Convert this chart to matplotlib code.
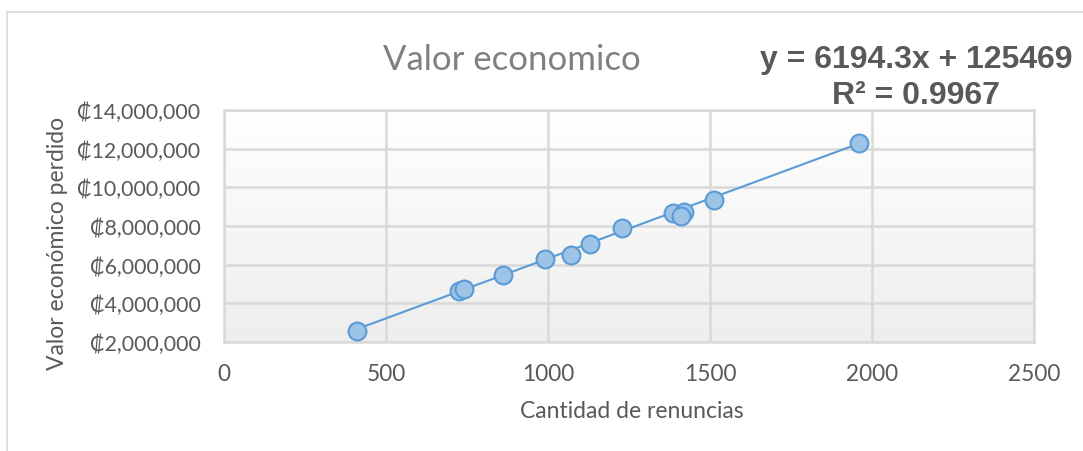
import numpy as np
import matplotlib.pyplot as plt
from matplotlib.colors import LinearSegmentedColormap
from matplotlib.lines import Line2D
from matplotlib.ticker import FuncFormatter

# renuncias vs valor economico perdido
renuncias = [410, 725, 741, 861, 991, 1071, 1130, 1228, 1386, 1420, 1410, 1512, 1960]
valor_perdido = [2570000, 4640000, 4720000, 5470000, 6290000, 6500000, 7070000,
                 7900000, 8670000, 8700000, 8520000, 9340000, 12290000]

# linear trend reported on the chart
pendiente = 6194.3
intercepto = 125469
r2 = 0.9967

x_ticks = [0, 500, 1000, 1500, 2000, 2500]
y_ticks = [2000000, 4000000, 6000000, 8000000, 10000000, 12000000, 14000000]

plt.rcParams['font.family'] = ['Lato', 'DejaVu Sans']

W, H = 1083, 452
gris_texto = '#595959'
gris_rejilla = '#d9d9d9'
azul = '#5b9bd5'

fig = plt.figure(figsize=(W / 100, H / 100), dpi=100)
ax = fig.add_axes([224 / W, 1 - 343 / H, (1034 - 224) / W, (343 - 111) / H])

# plot area background: soft vertical gradient
grad = np.linspace(0, 1, 256).reshape(-1, 1)
ax.imshow(grad, cmap=LinearSegmentedColormap.from_list('fondo', ['#ffffff', '#eeeeee']),
          aspect='auto', extent=[x_ticks[0], x_ticks[-1], y_ticks[0], y_ticks[-1]],
          origin='upper', zorder=0)

ax.set_xlim(x_ticks[0], x_ticks[-1])
ax.set_ylim(y_ticks[0], y_ticks[-1])
ax.set_xticks(x_ticks)
ax.set_yticks(y_ticks)
ax.grid(True, color=gris_rejilla, linewidth=1.8, zorder=1)
ax.set_axisbelow(True)
for s in ax.spines.values():
    s.set_color(gris_rejilla)
    s.set_linewidth(1.8)

ax.yaxis.set_major_formatter(FuncFormatter(lambda v, p: '\u20a1{:,.0f}'.format(v)))
ax.tick_params(length=0, labelcolor=gris_texto)
ax.tick_params(axis='y', labelsize=15.3, pad=17)
ax.tick_params(axis='x', labelsize=16.3, pad=15)

xs = np.array([min(renuncias), max(renuncias)])
ax.plot(xs, pendiente * xs + intercepto, color=azul, linewidth=1.5, zorder=3)
ax.scatter(renuncias, valor_perdido, s=165, facecolor='#9dc3e6', edgecolor=azul,
           linewidth=1.5, zorder=4)

fig.text(632 / W, 1 - 412 / H, 'Cantidad de renuncias', fontsize=16.5, color=gris_texto,
         ha='center', va='center')
fig.text(57 / W, 1 - 243 / H, 'Valor económico perdido', fontsize=16.5, color=gris_texto,
         ha='center', va='center', rotation=90)

fig.text(512 / W, 1 - 60 / H, 'Valor economico', fontsize=25, color='#808080',
         ha='center', va='center')
fig.text(916 / W, 1 - 60 / H, 'y = {}x + {}'.format(pendiente, intercepto),
         fontsize=23, fontweight='bold', color=gris_texto, family='Liberation Sans',
         ha='center', va='center')
fig.text(916 / W, 1 - 96 / H, 'R² = {}'.format(r2),
         fontsize=23, fontweight='bold', color=gris_texto, family='Liberation Sans',
         ha='center', va='center')

# chart frame
borde = '#d9d9d9'
fig.add_artist(Line2D([7 / W, 1], [1 - 13 / H] * 2, color=borde, linewidth=1.2))
fig.add_artist(Line2D([7 / W] * 2, [0, 1 - 13 / H], color=borde, linewidth=1.2))

fig.savefig('out.png', dpi=100)
